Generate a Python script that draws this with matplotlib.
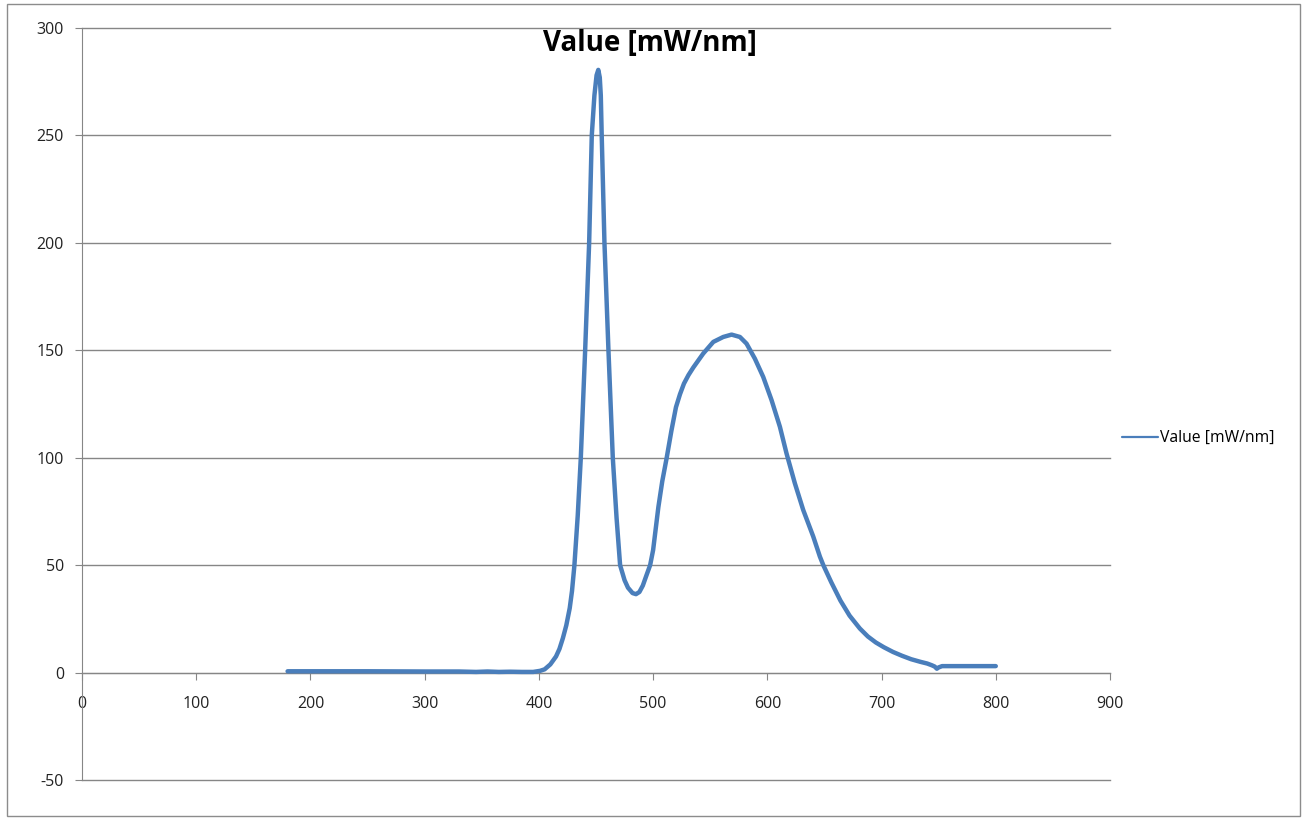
#!/usr/bin/env python
"""Spectral power plot, Excel-style: Value [mW/nm] vs wavelength."""

import matplotlib
matplotlib.use("Agg")
import matplotlib.pyplot as plt
from matplotlib.patches import Rectangle

# wavelength (nm) and value (mW/nm)
wavelength = [180, 200, 250, 300, 330, 345, 355, 365, 375, 385, 395, 401,
              405, 410, 415, 418, 421, 424, 427, 429, 431.1, 434, 436.7,
              440.5, 444, 446.3, 448.6, 450.5, 452, 453.3, 454.2, 455,
              457.4, 460.9, 464.7, 468, 471.1, 475, 478, 482, 485, 488, 491,
              494, 497.4, 500, 504.6, 508, 511.9, 516, 520, 523.5, 527, 531,
              535.2, 543.9, 552.7, 561.4, 568.7, 576, 581.8, 589.1, 596.4,
              603.7, 611, 616.8, 624.1, 631.4, 640.2, 646, 649, 656, 664,
              672, 681, 688, 695, 702, 710, 718, 726, 734, 740, 744, 746.5,
              748.4, 750, 753, 760, 780, 800]
value = [0.6, 0.6, 0.6, 0.5, 0.5, 0.3, 0.5, 0.3, 0.4, 0.3, 0.3, 0.8,
         1.5, 3.8, 7.5, 11, 16, 22, 30, 38, 50, 73, 100,
         150, 200, 250, 268.6, 278, 280.5, 277, 268.6, 250,
         200, 150, 100, 72, 50, 43, 39.5, 37, 36.5, 37.5, 40.5,
         45, 50, 57, 77, 89, 100, 112.5, 123.5, 129.5, 134.5, 138.5,
         142, 148.5, 153.9, 156.2, 157.3, 156.2, 153.1, 146.1, 137.6,
         126.8, 114.4, 102, 88.1, 75.7, 63.3, 54, 50, 42, 33.5,
         26.5, 20.5, 16.8, 14, 11.8, 9.6, 7.8, 6.2, 5.0, 4.2, 3.4, 2.8,
         1.8, 2.4, 3.0, 3.0, 3.0, 3.0]

series_name = "Value [mW/nm]"
x_ticks = list(range(0, 901, 100))
y_ticks = list(range(-50, 301, 50))

GRID = "#868686"
BLUE = "#4A7EBB"

plt.rcParams["font.family"] = ["Open Sans", "DejaVu Sans"]
plt.rcParams["axes.unicode_minus"] = False

fig = plt.figure(figsize=(13.03, 8.18), dpi=100)
ax = fig.add_axes([82 / 1303, 38 / 818, 1028 / 1303, 752 / 818])

ax.plot(wavelength, value, color=BLUE, lw=3.2, solid_capstyle="round",
        solid_joinstyle="round", label=series_name, zorder=3)

ax.set_xlim(0, 900)
ax.set_ylim(-50, 300)
ax.set_xticks(x_ticks)
ax.set_yticks(y_ticks)

# horizontal gridlines only, x axis crossing at y = 0
ax.yaxis.grid(True, color=GRID, lw=1.0)
for gl in ax.get_ygridlines():
    gl.set_clip_on(False)
ax.set_axisbelow(True)
for side in ("top", "right"):
    ax.spines[side].set_visible(False)
ax.spines["bottom"].set_position(("data", 0))
ax.spines["bottom"].set_color(GRID)
ax.spines["left"].set_color(GRID)
ax.tick_params(axis="y", direction="out", length=5, color=GRID,
               labelsize=11.5, pad=8, labelcolor="#222222")
ax.tick_params(axis="x", direction="out", length=5, color=GRID,
               labelsize=11.5, pad=12, labelcolor="#222222")

fig.text(650 / 1303, 1 - 44 / 818, series_name, ha="center", va="center",
         fontsize=20, fontweight="bold", color="black")

leg = ax.legend(loc="center left", bbox_to_anchor=(1122 / 1303, 1 - 438 / 818),
                bbox_transform=fig.transFigure, frameon=False, fontsize=11.3,
                handlelength=2.3, handletextpad=0.15, borderpad=0,
                borderaxespad=0)
for h in leg.get_lines():
    h.set_linewidth(1.6)

# chart area border
fig.patches.append(Rectangle((7 / 1303, 2 / 818), 1293 / 1303, 812 / 818,
                             transform=fig.transFigure, fill=False,
                             edgecolor="#8c8c8c", lw=1.0))

fig.savefig("out.png", dpi=100)
